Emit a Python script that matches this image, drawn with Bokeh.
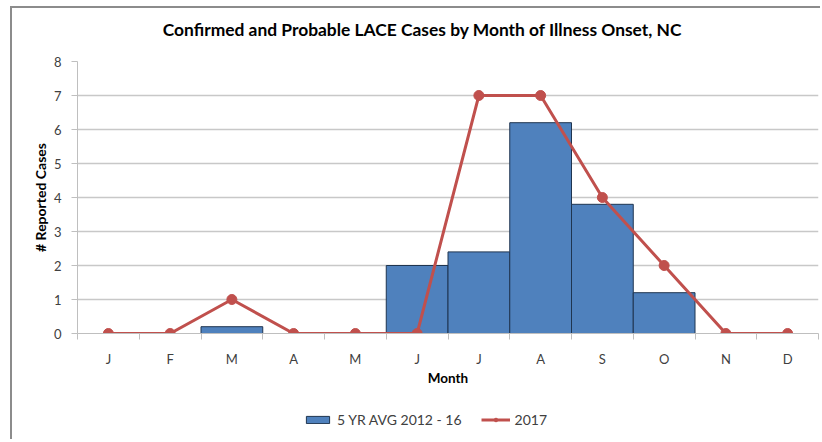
from bokeh.plotting import figure
from bokeh.layouts import column
from bokeh.models import (ColumnDataSource, FixedTicker, Range1d, Legend, LegendItem, Label)
from bokeh.embed import file_html
from bokeh.resources import INLINE

months = ["J", "F", "M", "A", "M", "J", "J", "A", "S", "O", "N", "D"]
avg_2012_16 = [0, 0, 0.2, 0, 0, 2, 2.4, 6.2, 3.8, 1.2, 0, 0]
cases_2017 = [0, 0, 1, 0, 0, 0, 7, 7, 4, 2, 0, 0]
y_ticks = [0, 1, 2, 3, 4, 5, 6, 7, 8]
series_names = ["5 YR AVG 2012 - 16", "2017"]
title_text = "Confirmed and Probable LACE Cases by Month of Illness Onset, NC"

FONT = "Lato"
BAR_FILL = "#4f81bd"
BAR_LINE = "#1f3550"
RED = "#c0504d"
W = 808
FW = 741  # frame width (frames of the stacked figures are aligned)

centers = [i + 0.5 for i in range(len(months))]
bar_x = [c for c, v in zip(centers, avg_2012_16) if v > 0]
bar_top = [v for v in avg_2012_16 if v > 0]

bar_src = ColumnDataSource(dict(x=bar_x, top=bar_top))
line_src = ColumnDataSource(dict(x=centers, y=cases_2017))

# ---- title strip ----
TH = 43
tf = figure(width=W, height=TH, output_backend="svg", toolbar_location=None,
            x_range=Range1d(0, FW), y_range=Range1d(0, TH),
            x_axis_location=None, y_axis_location=None,
            min_border=0, outline_line_color=None)
tf.grid.grid_line_color = None
tf.add_layout(Label(x=345, y=22, text=title_text, text_align="center", text_baseline="middle",
                    text_font=FONT, text_font_size="17.4px", text_font_style="bold",
                    text_color="#000000"))

# ---- main chart ----
p = figure(width=W, height=344, output_backend="svg", toolbar_location=None,
           x_range=Range1d(0, 12), y_range=Range1d(0, 8),
           min_border_left=65, min_border_right=2, min_border_top=10, min_border_bottom=62,
           outline_line_color=None)

p.vbar(x="x", top="top", bottom=0, width=1.0, source=bar_src,
       fill_color=BAR_FILL, line_color=BAR_LINE, line_width=1)
p.line("x", "y", source=line_src, line_color=RED, line_width=3)
p.scatter("x", "y", source=line_src, size=10, fill_color=RED, line_color=RED)

xax = p.xaxis[0]
xax.ticker = FixedTicker(ticks=centers, minor_ticks=list(range(0, 13)))
xax.major_label_overrides = {c: m for c, m in zip(centers, months)}
xax.major_tick_line_color = None
xax.minor_tick_line_color = "#bfbfbf"
xax.minor_tick_out = 6
xax.minor_tick_in = 0
xax.axis_line_color = "#bfbfbf"
xax.major_label_text_font = FONT
xax.major_label_text_font_size = "13px"
xax.major_label_text_color = "#404040"
xax.major_label_standoff = 11
xax.axis_label = "Month"
xax.axis_label_text_font = FONT
xax.axis_label_text_font_size = "13.5px"
xax.axis_label_text_font_style = "bold"
xax.axis_label_text_color = "#000000"
xax.axis_label_standoff = 0

yax = p.yaxis[0]
yax.ticker = FixedTicker(ticks=y_ticks)
yax.minor_tick_line_color = None
yax.major_tick_line_color = "#bfbfbf"
yax.major_tick_out = 6
yax.major_tick_in = 0
yax.axis_line_color = "#bfbfbf"
yax.major_label_text_font = FONT
yax.major_label_text_font_size = "13px"
yax.major_label_text_color = "#404040"
yax.major_label_standoff = 10
yax.axis_label = "# Reported Cases"
yax.axis_label_text_font = FONT
yax.axis_label_text_font_size = "14px"
yax.axis_label_text_font_style = "bold"
yax.axis_label_text_color = "#000000"
yax.axis_label_standoff = 2

p.xgrid.grid_line_color = None
p.ygrid.grid_line_color = "#c8c8c8"
p.ygrid.grid_line_width = 1.3

# ---- legend strip (its renderers sit far outside the visible ranges) ----
LH = 44
lg = figure(width=W, height=LH, output_backend="svg", toolbar_location=None,
            x_range=Range1d(5000, 5000 + FW), y_range=Range1d(5000, 5000 + LH),
            x_axis_location=None, y_axis_location=None,
            min_border=0, outline_line_color=None)
lg.grid.grid_line_color = None
lb = lg.vbar(x="x", top="top", bottom=0, width=1, source=bar_src,
             fill_color=BAR_FILL, line_color=BAR_LINE, line_width=1)
ll = lg.line("x", "y", source=line_src, line_color=RED, line_width=3)
lp = lg.scatter("x", "y", source=line_src, size=8, fill_color=RED, line_color=RED)
legend = Legend(items=[LegendItem(label=series_names[0], renderers=[lb]),
                       LegendItem(label=series_names[1], renderers=[ll, lp])],
                orientation="horizontal", location=(226, 11),
                label_text_font=FONT, label_text_font_size="14px", label_text_color="#404040",
                glyph_width=29, glyph_height=9, label_standoff=5, spacing=19,
                border_line_color=None, background_fill_alpha=0, padding=4, margin=0)
lg.add_layout(legend, "center")

layout = column(tf, p, lg, spacing=0, margin=(6, 0, 0, 10))
layout.styles = {"border-left": "2px solid #8c8c8c", "border-top": "2px solid #8c8c8c"}

open("out.html", "w").write(file_html(layout, INLINE))
